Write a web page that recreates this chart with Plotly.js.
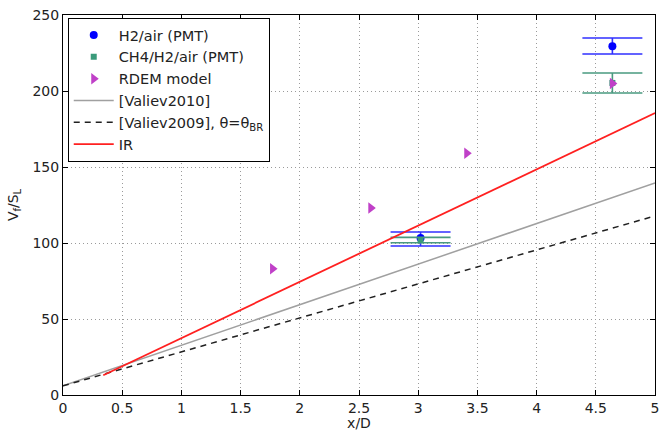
<!DOCTYPE html>
<html><head><meta charset="utf-8">
<script src="https://cdn.plot.ly/plotly-3.0.1.min.js"></script>
<style>html,body{margin:0;padding:0;background:#fff}#chart{width:660px;height:431px}</style>
</head><body><div id="chart"></div>
<script>
// H2/air (PMT)
var h2X = [3.02, 4.64];
var h2Y = [103.3, 229.4];
var h2ErrPlus = [3.9, 5.5];
var h2ErrMinus = [5.3, 5.1];
// CH4/H2/air (PMT)
var ch4X = [3.02, 4.64];
var ch4Y = [101.8, 205.3];
var ch4ErrPlus = [1.9, 6.5];
var ch4ErrMinus = [1.6, 6.6];
// RDEM model
var rdemX = [1.77, 2.60, 3.41, 4.64];
var rdemY = [83, 123, 159, 205];
// [Valiev2010]
var v2010X = [0, 5];
var v2010Y = [6, 139.5];
// [Valiev2009]
var v2009X = [0, 5];
var v2009Y = [6, 117.8];
// IR
var irX = [0.34, 5];
var irY = [13, 185.5];

var xTicks = [0, 0.5, 1, 1.5, 2, 2.5, 3, 3.5, 4, 4.5, 5];
var xTickText = ['0','0.5','1','1.5','2','2.5','3','3.5','4','4.5','5'];
var yTicks = [0, 50, 100, 150, 200, 250];

var traces = [
  {x: h2X, y: h2Y, name: 'H2/air (PMT)', type: 'scatter', mode: 'markers',
   marker: {color: '#0000ff', size: 8, symbol: 'circle'},
   error_y: {type: 'data', symmetric: false, array: h2ErrPlus, arrayminus: h2ErrMinus,
             color: '#3030ff', thickness: 1.6, width: 30}},
  {x: ch4X, y: ch4Y, name: 'CH4/H2/air (PMT)', type: 'scatter', mode: 'markers',
   marker: {color: '#3a9a7a', size: 6, symbol: 'square'},
   error_y: {type: 'data', symmetric: false, array: ch4ErrPlus, arrayminus: ch4ErrMinus,
             color: '#4a9a80', thickness: 1.6, width: 30}},
  {x: rdemX, y: rdemY, name: 'RDEM model', type: 'scatter', mode: 'markers',
   marker: {color: '#c040c8', size: 10, symbol: 'triangle-right'}},
  {x: v2010X, y: v2010Y, name: '[Valiev2010]', type: 'scatter', mode: 'lines',
   line: {color: '#a0a0a0', width: 1.5}},
  {x: v2009X, y: v2009Y, name: '[Valiev2009], θ=θ<sub>BR</sub>', type: 'scatter', mode: 'lines',
   line: {color: '#202020', width: 1.5, dash: '6px,5px'}},
  {x: irX, y: irY, name: 'IR', type: 'scatter', mode: 'lines',
   line: {color: '#ff2020', width: 1.8}}
];

var FONT = 'DejaVu Sans, Liberation Sans, Arial, sans-serif';
var axisCommon = {
  showline: true, linecolor: '#000', linewidth: 1, mirror: 'ticks',
  ticks: 'inside', ticklen: 5, tickcolor: '#000',
  showgrid: true, gridcolor: '#9a9a9a', griddash: '1px,3px', gridwidth: 1,
  zeroline: false, tickfont: {family: FONT, size: 14, color: '#222'}
};

var layout = {
  width: 660, height: 431,
  margin: {l: 63, r: 5, t: 15, b: 36},
  paper_bgcolor: '#fff', plot_bgcolor: '#fff',
  font: {family: FONT, size: 14, color: '#222'},
  showlegend: true,
  legend: {x: 0.008, y: 0.992, xanchor: 'left', yanchor: 'top',
           bordercolor: '#000', borderwidth: 1, bgcolor: '#fff', itemwidth: 40,
           font: {family: FONT, size: 14.5, color: '#222'}, tracegroupgap: 0},
  xaxis: Object.assign({}, axisCommon, {range: [0, 5], tickvals: xTicks, ticktext: xTickText,
    title: {text: 'x/D', standoff: 11, font: {family: FONT, size: 14}}}),
  yaxis: Object.assign({}, axisCommon, {range: [0, 250], tickvals: yTicks,
    title: {text: 'V<sub>f</sub>/S<sub>L</sub>', standoff: 10, font: {family: FONT, size: 14}}})
};

Plotly.newPlot('chart', traces, layout, {displayModeBar: false, staticPlot: true});
</script></body></html>
